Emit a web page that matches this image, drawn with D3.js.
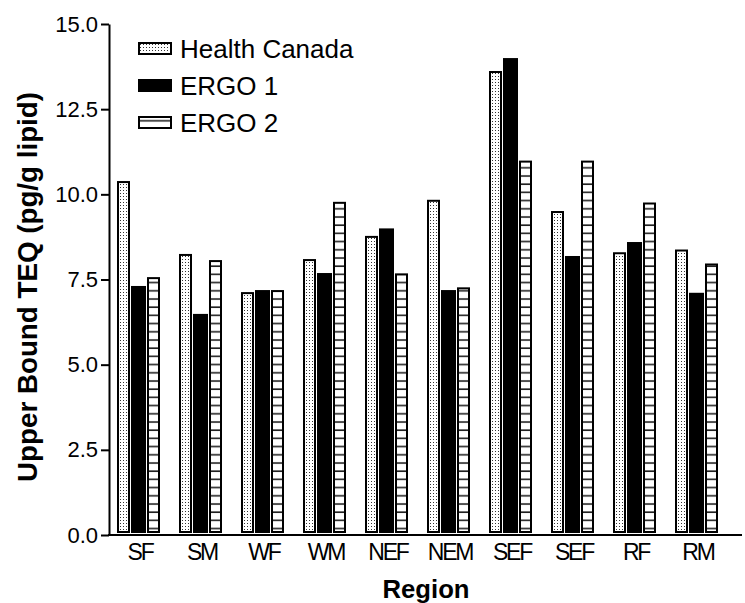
<!DOCTYPE html>
<html>
<head>
<meta charset="utf-8">
<script src="https://cdn.jsdelivr.net/npm/d3@7"></script>
<style>
  html, body { margin: 0; padding: 0; background: #fff; }
  svg { display: block; font-family: Arial, "Liberation Sans", sans-serif; }
</style>
</head>
<body>
<svg id="chart" width="745" height="603"></svg>
<script>
const categories = ["SF", "SM", "WF", "WM", "NEF", "NEM", "SEF", "SEF", "RF", "RM"];
const seriesNames = ["Health Canada", "ERGO 1", "ERGO 2"];
const healthCanada = [10.39, 8.25, 7.13, 8.10, 8.78, 9.84, 13.62, 9.51, 8.30, 8.38];
const ergo1 = [7.31, 6.49, 7.19, 7.69, 9.00, 7.19, 14.00, 8.19, 8.60, 7.11];
const ergo2 = [7.57, 8.07, 7.19, 9.78, 7.68, 7.27, 10.99, 10.99, 9.76, 7.97];
const yTicks = [0, 2.5, 5, 7.5, 10, 12.5, 15];
const yTitle = "Upper Bound TEQ (pg/g lipid)";
const xTitle = "Region";

const seriesValues = [healthCanada, ergo1, ergo2];

const svg = d3.select("#chart");

// patterns
const defs = svg.append("defs");
const dots = defs.append("pattern").attr("id", "dots")
  .attr("patternUnits", "userSpaceOnUse").attr("width", 3).attr("height", 3);
dots.append("rect").attr("width", 3).attr("height", 3).attr("fill", "#fff");
dots.append("rect").attr("x", 1).attr("y", 1).attr("width", 1).attr("height", 1).attr("fill", "#333");

const hlines = defs.append("pattern").attr("id", "hlines")
  .attr("patternUnits", "userSpaceOnUse").attr("width", 8).attr("height", 8.2);
hlines.append("rect").attr("width", 8).attr("height", 8.2).attr("fill", "#fff");
hlines.append("rect").attr("x", 0).attr("y", 3).attr("width", 8).attr("height", 1.6).attr("fill", "#222");

const fills = ["url(#dots)", "#000", "url(#hlines)"];

const x = d3.scaleBand().domain(d3.range(categories.length)).range([108, 728]).padding(0);
const y = d3.scaleLinear().domain([0, 15]).range([535, 24]);
const x1 = d3.scaleBand().domain(d3.range(seriesNames.length)).range([0, 45]);

// bars
const groups = svg.append("g").selectAll("g").data(categories).join("g")
  .attr("transform", (d, i) => `translate(${x(i) + x.bandwidth() / 2 - 23},0)`);

groups.selectAll("rect")
  .data((d, i) => seriesValues.map((s, k) => ({ k, v: s[i] })))
  .join("rect")
  .attr("x", d => x1(d.k) + (d.k === 1 ? 1 : 2))
  .attr("width", d => d.k === 1 ? 13 : 11)
  .attr("y", d => y(d.v) + 1)
  .attr("height", d => (y(0) - 3) - (y(d.v) + 1))
  .attr("fill", d => fills[d.k])
  .attr("stroke", "#000")
  .attr("stroke-width", 2);

// y axis
const yAxis = svg.append("g").attr("transform", "translate(109,0)")
  .call(d3.axisLeft(y).tickValues(yTicks).tickFormat(d3.format(".1f")).tickSize(8).tickSizeOuter(0).tickPadding(3));
yAxis.select(".domain").attr("stroke-width", 2);
yAxis.selectAll(".tick line").attr("stroke-width", 2);
yAxis.selectAll(".tick text").attr("font-size", 22).attr("fill", "#000")
  .attr("font-family", "Arial, 'Liberation Sans', sans-serif");

// x axis
const xAxis = svg.append("g").attr("transform", "translate(0,535)")
  .call(d3.axisBottom(x).tickFormat(i => categories[i]).tickSize(0).tickSizeOuter(0).tickPadding(8));
xAxis.select(".domain").remove();
xAxis.selectAll(".tick text").attr("font-size", 23).attr("fill", "#000")
  .attr("letter-spacing", "-2.2px").attr("dx", 1).attr("dy", "0.72em")
  .attr("font-family", "Arial, 'Liberation Sans', sans-serif");
svg.append("line").attr("x1", 108).attr("x2", 742).attr("y1", y(0)).attr("y2", y(0))
  .attr("stroke", "#000").attr("stroke-width", 2);

// titles
svg.append("text").attr("transform", "translate(37,287) rotate(-90)")
  .attr("text-anchor", "middle").attr("font-weight", "bold").attr("font-size", 27)
  .attr("textLength", 390).attr("lengthAdjust", "spacingAndGlyphs")
  .text(yTitle);
svg.append("text").attr("x", 426).attr("y", 598)
  .attr("text-anchor", "middle").attr("font-weight", "bold").attr("font-size", 26)
  .attr("textLength", 87).attr("lengthAdjust", "spacingAndGlyphs")
  .text(xTitle);

// legend
const legend = svg.append("g").selectAll("g").data(seriesNames).join("g")
  .attr("transform", (d, i) => `translate(139,${43 + i * 37})`);
legend.append("rect").attr("width", 32).attr("height", 11)
  .attr("fill", (d, i) => fills[i]).attr("stroke", "#000").attr("stroke-width", 2);
legend.append("text").attr("x", 41).attr("y", 14.5).attr("font-size", 26).text(d => d);
</script>
</body>
</html>
